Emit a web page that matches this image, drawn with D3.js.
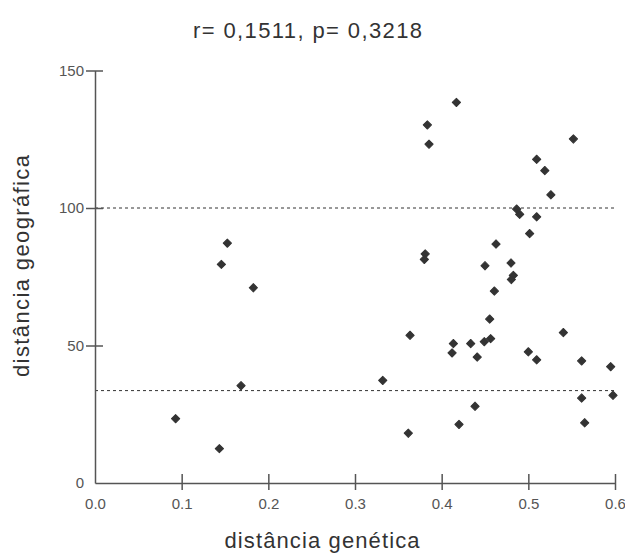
<!DOCTYPE html>
<html>
<head>
<meta charset="utf-8">
<script src="https://cdn.jsdelivr.net/npm/d3@7"></script>
<style>
  body { margin: 0; background: #fff; }
  text { font-family: "Liberation Sans", Arial, sans-serif; }
</style>
</head>
<body>
<div id="chart"></div>
<script>
// genetic distance (x) and geographic distance (y)
let genDist = [
  0.093, 0.1435, 0.1685, 0.1827, 0.1527, 0.1458,
  0.417, 0.3835, 0.3854, 0.552, 0.5096, 0.519, 0.526,
  0.4865, 0.490, 0.5096, 0.5015, 0.4627, 0.381, 0.380,
  0.450, 0.480, 0.4827, 0.4804, 0.4608, 0.4554, 0.3635,
  0.4135, 0.4335, 0.4492, 0.4565, 0.412, 0.441, 0.500,
  0.5096, 0.5404, 0.5615, 0.595, 0.332, 0.5615, 0.5977,
  0.4385, 0.420, 0.565, 0.3615
]
let geoDist = [
  23.4, 12.5, 35.4, 71.0, 87.2, 79.5,
  138.4, 130.2, 123.2, 125.1, 117.7, 113.6, 104.8,
  99.6, 97.7, 96.8, 90.7, 86.9, 83.3, 81.3,
  79.0, 80.0, 75.5, 74.0, 69.8, 59.6, 53.7,
  50.7, 50.7, 51.4, 52.5, 47.3, 45.8, 47.7,
  44.8, 54.7, 44.4, 42.3, 37.3, 30.9, 31.9,
  27.9, 21.3, 21.9, 18.1
]
let xTicks = [0, 0.1, 0.2, 0.3, 0.4, 0.5, 0.6]
let yTicks = [0, 50, 100, 150]
let refLines = [100, 33.6]

let title = 'r= 0,1511, p= 0,3218'
let xTitle = 'distância genética'
let yTitle = 'distância geográfica'

let width = 625
let height = 554

let svg = d3
  .select('#chart')
  .append('svg')
  .attr('width', width)
  .attr('height', height)

let x = d3.scaleLinear().domain([0, 0.6]).range([95, 615])
let y = d3.scaleLinear().domain([0, 150]).range([483, 70.5])

// dashed reference lines
svg
  .selectAll('.ref')
  .data(refLines)
  .enter()
  .append('line')
  .attr('class', 'ref')
  .attr('x1', x(0))
  .attr('x2', x(0.6))
  .attr('y1', d => y(d))
  .attr('y2', d => y(d))
  .attr('stroke', '#333')
  .attr('stroke-width', 1)
  .attr('stroke-dasharray', '3,3')

// axes
let xAxis = svg
  .append('g')
  .attr('transform', `translate(0, ${y(0)})`)
  .call(d3.axisBottom(x).tickValues(xTicks).tickFormat(d3.format('.1f')).tickSize(7).tickSizeOuter(0).tickPadding(8))

let yAxis = svg
  .append('g')
  .attr('transform', `translate(${x(0)}, 0)`)
  .call(d3.axisLeft(y).tickValues(yTicks).tickFormat(d3.format('d')).tickSize(9).tickSizeOuter(0).tickPadding(2))

xAxis.selectAll('.tick line').attr('y1', -9).filter(d => d === 0).remove()
yAxis.selectAll('.tick line').attr('x1', 8).filter(d => d === 0).remove()

svg.selectAll('.domain').attr('stroke', '#555').attr('stroke-width', 1.5)
svg.selectAll('.tick line').attr('stroke', '#555').attr('stroke-width', 1.5)
svg.selectAll('.tick text')
  .attr('fill', '#555')
  .style('font-size', '15px')
  .style('font-family', '"Liberation Sans", Arial, sans-serif')

// points
let sym = d3.symbol().type(d3.symbolSquare).size(34)
svg
  .append('g')
  .selectAll('.pt')
  .data(genDist.map((d, i) => [d, geoDist[i]]))
  .enter()
  .append('path')
  .attr('class', 'pt')
  .attr('d', sym)
  .attr('transform', d => `translate(${x(d[0])}, ${y(d[1])}) rotate(45)`)
  .attr('fill', '#333')
  .attr('stroke', '#333')
  .attr('stroke-width', 1)
  .attr('stroke-linejoin', 'round')

// title and axis titles
svg
  .append('text')
  .attr('x', 307.5)
  .attr('y', 38)
  .attr('text-anchor', 'middle')
  .attr('textLength', 229)
  .attr('lengthAdjust', 'spacing')
  .attr('fill', '#333')
  .style('font-size', '22px')
  .text(title)

svg
  .append('text')
  .attr('x', 322)
  .attr('y', 548)
  .attr('text-anchor', 'middle')
  .attr('textLength', 195)
  .attr('lengthAdjust', 'spacing')
  .attr('fill', '#333')
  .style('font-size', '22px')
  .text(xTitle)

svg
  .append('text')
  .attr('transform', 'translate(29, 266) rotate(-90)')
  .attr('text-anchor', 'middle')
  .attr('textLength', 222)
  .attr('lengthAdjust', 'spacing')
  .attr('fill', '#333')
  .style('font-size', '22px')
  .text(yTitle)
</script>
</body>
</html>
